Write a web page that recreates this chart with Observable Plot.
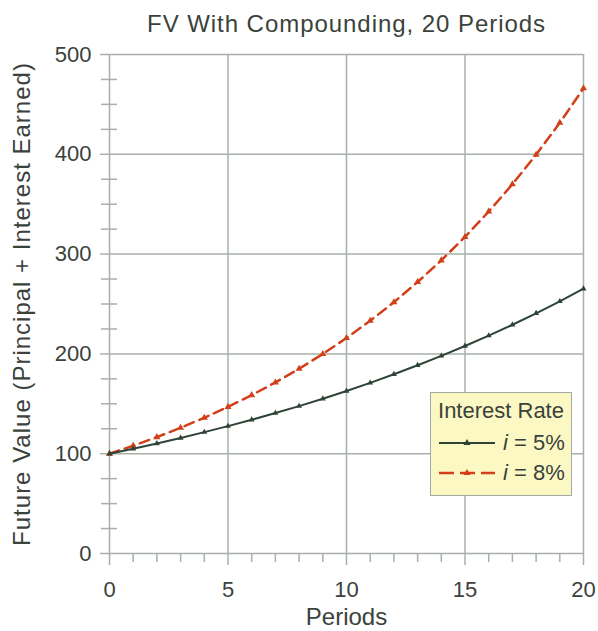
<!DOCTYPE html>
<html>
<head>
<meta charset="utf-8">
<script src="https://cdn.jsdelivr.net/npm/d3@7"></script>
<script src="https://cdn.jsdelivr.net/npm/@observablehq/plot@0.6"></script>
<style>
  body { margin: 0; background: #fff; font-family: "Liberation Sans", Arial, sans-serif; }
  #wrap { position: relative; width: 598px; height: 631px; }
  #legend { position: absolute; left: 430px; top: 392px; width: 140px; height: 102px;
    background: #fcf8c4; border: 1.5px solid #a3aaa3; color: #3a423b; }
</style>
</head>
<body>
<div id="wrap"></div>
<script>
const title = "FV With Compounding, 20 Periods";
const xLabel = "Periods";
const yLabel = "Future Value (Principal + Interest Earned)";
const legendTitle = "Interest Rate";
const periods = [0,1,2,3,4,5,6,7,8,9,10,11,12,13,14,15,16,17,18,19,20];
const fv5 = [100,105,110.3,115.8,121.6,127.6,134.0,140.7,147.7,155.1,162.9,171.0,179.6,188.6,198.0,207.9,218.3,229.2,240.7,252.7,265.3];
const fv8 = [100,108,116.6,126.0,136.0,146.9,158.7,171.4,185.1,199.9,215.9,233.2,251.8,272.0,293.7,317.2,342.6,370.0,399.6,431.6,466.1];
const seriesNames = ["i = 5%", "i = 8%"];
const xMajor = [0,5,10,15,20];
const xMinor = [1,2,3,4,6,7,8,9,11,12,13,14,16,17,18,19];
const yMajor = [0,100,200,300,400,500];
const yMinor = [25,50,75,125,150,175,225,250,275,325,350,375,425,450,475];

const c5 = "#2f4436";
const c8 = "#d2401a";
const grid = "#a9b0a9";
const txt = "#3a423b";

const d5 = periods.map((p, i) => ({p, v: fv5[i]}));
const d8 = periods.map((p, i) => ({p, v: fv8[i]}));

const chart = Plot.plot({
  width: 598, height: 631,
  marginLeft: 109, marginRight: 15, marginTop: 54, marginBottom: 78,
  style: {fontFamily: '"Liberation Sans", Arial, sans-serif', color: txt, background: "#fff"},
  x: {domain: [0, 20]},
  y: {domain: [0, 500]},
  marks: [
    Plot.ruleX(xMajor, {stroke: grid, strokeWidth: 1.5}),
    Plot.ruleY(yMajor, {stroke: grid, strokeWidth: 1.5}),
    Plot.axisX({ticks: xMajor, tickSize: 12, tickPadding: 16, fontSize: 22, stroke: grid, strokeWidth: 1.5, tickFormat: d => String(d), label: null}),
    Plot.axisX({ticks: xMinor, tickSize: 9, text: null, stroke: grid, strokeWidth: 1.5, label: null}),
    Plot.axisY({ticks: yMajor, tickSize: 9, tickPadding: 9, fontSize: 22, stroke: grid, strokeWidth: 1.5, tickFormat: d => String(d), label: null}),
    Plot.axisY({ticks: yMinor, tickSize: 16, dx: 8, text: null, stroke: grid, strokeWidth: 1.5, label: null}),
    Plot.line(d8, {x: "p", y: "v", stroke: c8, strokeWidth: 2.5, strokeDasharray: "10,6"}),
    Plot.dot(d8, {x: "p", y: "v", fill: c8, symbol: "triangle", r: 2.6}),
    Plot.line(d5, {x: "p", y: "v", stroke: c5, strokeWidth: 2}),
    Plot.dot(d5, {x: "p", y: "v", fill: c5, symbol: "triangle", r: 2.2}),
    Plot.text([title], {frameAnchor: "top", dy: -30, fontSize: 24, fill: txt, lineAnchor: "middle"}),
    Plot.text([xLabel], {frameAnchor: "bottom", dy: 64, fontSize: 24, fill: txt, lineAnchor: "middle"}),
    Plot.text([yLabel], {frameAnchor: "left", dx: -87, rotate: -90, textAnchor: "middle", fontSize: 24, fill: txt, lineAnchor: "middle"})
  ]
});
document.getElementById("wrap").appendChild(chart);
d3.select(chart).selectAll("text").each(function() {
  const t = this.textContent;
  if (t === title) this.setAttribute("letter-spacing", "0.95");
  if (t === yLabel) this.setAttribute("letter-spacing", "1");
});

// legend overlay
const leg = document.createElement("div");
leg.id = "legend";
const entry = (name, color, dash) => {
  const parts = name.split(" ");
  return `<div style="display:flex;align-items:center;height:30px;padding-left:8px">
    <svg width="58" height="14"><line x1="0" y1="7" x2="56" y2="7" stroke="${color}" stroke-width="${dash ? 2.5 : 2}" ${dash ? 'stroke-dasharray="15,6"' : ''}/>
    <path d="${d3.symbol(d3.symbolTriangle, 22)()}" transform="translate(28,7)" fill="${color}"/></svg>
    <span style="font-size:22px;margin-left:6px;white-space:pre"><i>${parts[0]}</i> ${parts.slice(1).join(" ")}</span></div>`;
};
leg.innerHTML = `<div style="text-align:center;font-size:22px;margin-top:4px;height:31px;line-height:28px">${legendTitle}</div>` +
  entry(seriesNames[0], c5, false) + entry(seriesNames[1], c8, true);
document.getElementById("wrap").appendChild(leg);
</script>
</body>
</html>
